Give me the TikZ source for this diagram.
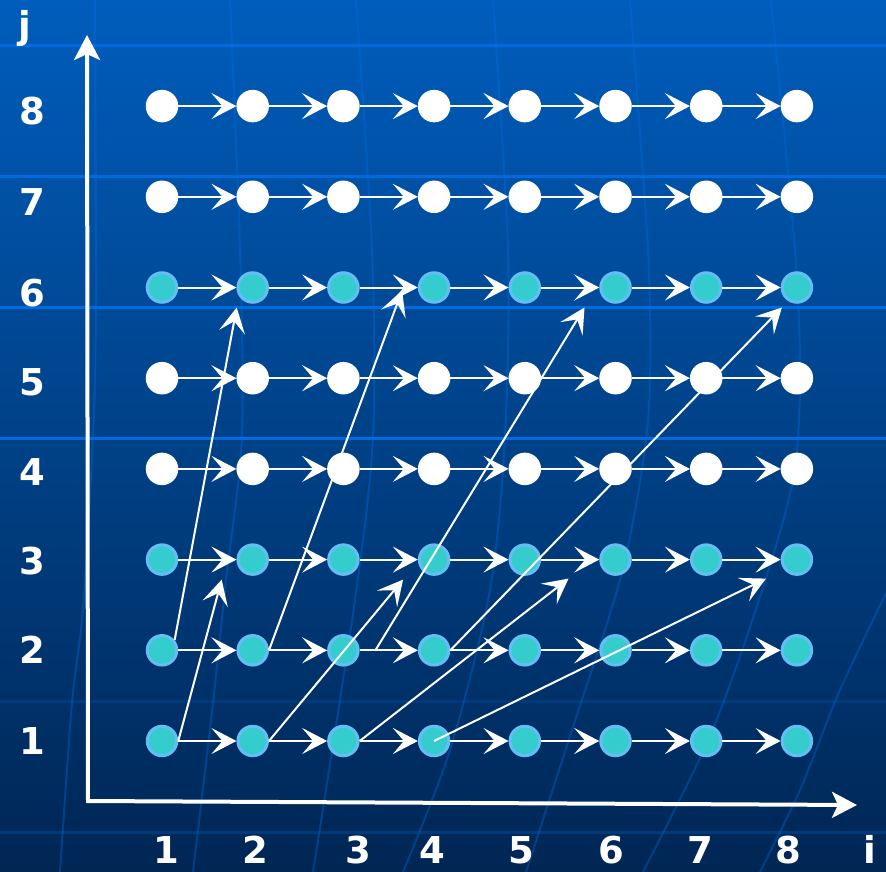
\documentclass[tikz,border=0pt]{standalone}
\usepackage{fontspec}
\setmainfont{DejaVu Sans}
\usepackage{tikz}
\usetikzlibrary{arrows.meta}
\usepackage{xcolor}
\definecolor{bgtop}{RGB}{0,93,188}
\definecolor{bgmid}{RGB}{0,68,140}
\definecolor{bgbot}{RGB}{0,38,84}
\definecolor{gridhi}{RGB}{0,106,224}
\definecolor{gridlo}{RGB}{0,58,122}
\definecolor{meshblue}{RGB}{0,110,230}
\definecolor{tealfill}{RGB}{52,204,204}
\definecolor{tealrim}{RGB}{100,190,245}

\begin{document}
\begin{tikzpicture}[
		x=1pt, y=-1pt,
		dot/.style 2 args = {circle, inner sep=0pt, minimum size=29.5pt, line width=3pt, fill=#1, draw=#2},
		hop/.style = {-{Stealth[length=25pt, width=26pt, inset=11pt]}, white, line width=2pt},
		ax/.style = {{Stealth[length=25pt, width=26pt, inset=6pt]}-{Stealth[length=25pt, width=26pt, inset=6pt]}, white, line width=4pt},
		lbl/.style = {text=white, font=\fontsize{37}{40}\selectfont\bfseries, inner sep=0pt},
		mesh/.style = {meshblue, opacity=0.35, line width=2pt}
		]
		
		
		% === === Background === ===
		\useasboundingbox (0,0) rectangle (886,872);
		\shade[top color=bgtop, middle color=bgmid, bottom color=bgbot] (0,0) rectangle (886,872);
		\foreach \y in {46,176,307,438}
			\draw[gridhi, line width=3pt] (0,\y) -- (886,\y);
		\foreach \y in {701,832}
			\draw[gridlo, line width=3pt] (0,\y) -- (886,\y);
		\begin{scope}
			\clip (0,0) rectangle (886,872);
			\draw[mesh] plot[smooth] coordinates {(95,0) (96,300) (93,436) (83,609) (72,703) (60,872)};
			\draw[mesh] plot[smooth] coordinates {(230,0) (240,250) (242,436) (226,580) (213,703) (193,872)};
			\draw[mesh] plot[smooth] coordinates {(356,0) (372,250) (373,436) (355,600) (313,872)};
			\draw[mesh] plot[smooth] coordinates {(493,0) (508,250) (505,436) (490,590) (450,750) (403,872)};
			\draw[mesh] plot[smooth] coordinates {(630,0) (648,250) (650,380) (643,463) (620,580) (570,736) (526,872)};
			\draw[mesh] plot[smooth] coordinates {(771,0) (795,250) (800,380) (793,480) (760,597) (710,736) (643,872)};
			\draw[mesh] plot[smooth] coordinates {(890,585) (840,690) (800,790) (760,872)};
		\end{scope}
		
		
		% === === Axes === ===
		\coordinate (ytop) at (87,35);
		\coordinate (org)  at (88,801);
		\coordinate (xend) at (857,805);
		\draw[ax] (ytop) -- (org) -- (xend);
		
		
		% === === Nodes === ===
		\foreach \j/\f/\r in {1/tealfill/tealrim, 2/tealfill/tealrim, 3/tealfill/tealrim, 4/white/white, 5/white/white, 6/tealfill/tealrim, 7/white/white, 8/white/white}
			\foreach \i in {1,...,8}
				\node[dot={\f}{\r}] (d\i\j) at ({162+90.7*(\i-1)}, {741-90.7*(\j-1)}) {};
		
		
		% === === Lines === ===
		\foreach \j in {1,...,8}
			\foreach \i [count=\n from 2] in {1,...,7}
				\draw[hop] (d\i\j.east) -- (d\n\j.west);
		
		\coordinate (sE) at ([xshift=32pt]d32.center);
		\coordinate (tA) at ([shift={(-16,20)}]d26);
		\coordinate (tB) at ([shift={(-31,20)}]d23);
		\coordinate (tC) at ([shift={(-32,3)}]d46);
		\coordinate (tD) at ([shift={(-31,20)}]d43);
		\coordinate (tE) at ([shift={(-31,20)}]d66);
		\coordinate (tF) at ([shift={(-47,19)}]d63);
		\coordinate (tG) at ([shift={(-15,20)}]d86);
		\coordinate (tH) at ([shift={(-31,19)}]d83);
		
		\draw[hop]	(d12.39)	--	(tA);
		\draw[hop]	(d11.east)	--	(tB);
		\draw[hop]	(d22.east)	--	(tC);
		\draw[hop]	(d21.east)	--	(tD);
		\draw[hop]	(sE)		--	(tE);
		\draw[hop]	(d31.east)	--	(tF);
		\draw[hop]	(d42.east)	--	(tG);
		\draw[hop]	(d41.center)	--	(tH);
		
		
		% === === Labels === ===
		\foreach \j/\y in {1/741, 2/650, 3/561, 4/472, 5/382, 6/293, 7/202, 8/111}
			\node[lbl] (r\j) at (32,\y) {\j};
		\foreach \i/\x in {1/166, 2/255, 3/358, 4/432, 5/521, 6/611, 7/700, 8/788}
			\node[lbl, anchor=base] (c\i) at (\x,863) {\i};
		\node[lbl, anchor=base] (ilbl) at (870,863) {i};
		\node[lbl, anchor=base] (jlbl) at (25,39) {j};
		
		
	\end{tikzpicture}
\end{document}
